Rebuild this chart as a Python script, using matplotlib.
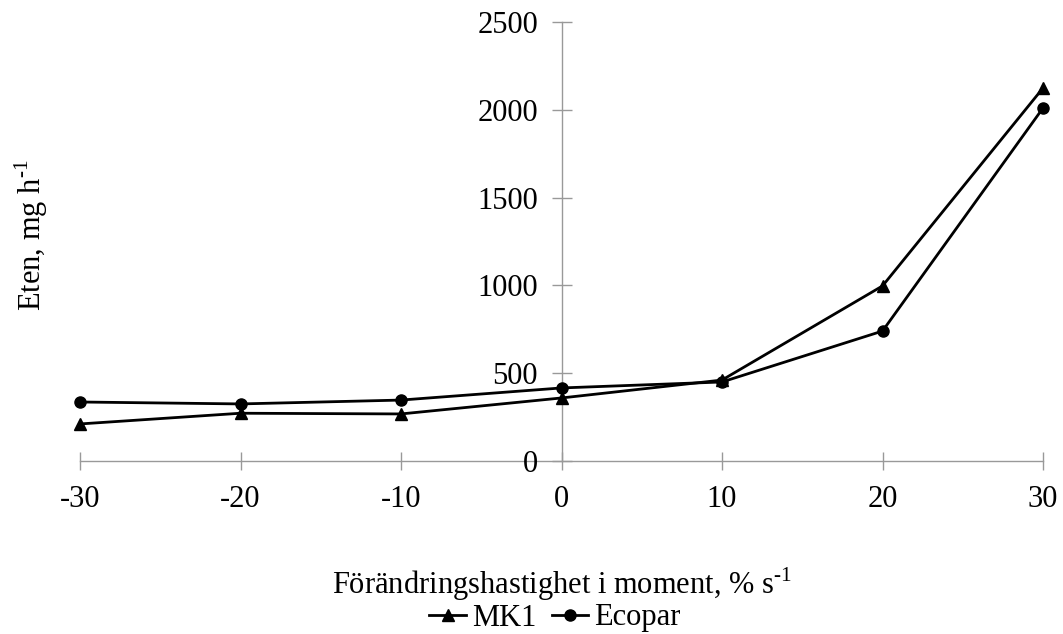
import matplotlib
matplotlib.use("Agg")
from matplotlib import pyplot as plt

plt.rcParams['font.family'] = ['Liberation Serif', 'DejaVu Serif']
plt.rcParams['mathtext.fontset'] = 'custom'
plt.rcParams['mathtext.rm'] = 'Liberation Serif'
plt.rcParams['axes.unicode_minus'] = False

# data
x_vals = [-30, -20, -10, 0, 10, 20, 30]
mk1 = [211, 272, 268, 359, 461, 997, 2124]
ecopar = [336, 325, 347, 416, 450, 740, 2010]
y_ticks = [0, 500, 1000, 1500, 2000, 2500]

fs = 22

fig = plt.figure(figsize=(10.63, 6.34), dpi=100)
ax = fig.add_axes([80 / 1063, 1 - 461 / 634, 963 / 1063, 439 / 634])

ax.plot(x_vals, mk1, color='black', lw=2, marker='^', ms=8, label='MK1', clip_on=False)
ax.plot(x_vals, ecopar, color='black', lw=2, marker='o', ms=8, label='Ecopar', clip_on=False)

ax.set_xlim(-30, 30)
ax.set_ylim(0, 2500)
ax.set_xticks(x_vals)
ax.set_yticks(y_ticks)

ax.spines['left'].set_position(('data', 0))
ax.spines['right'].set_visible(False)
ax.spines['top'].set_visible(False)
for s in ['left', 'bottom']:
    ax.spines[s].set_color('#999999')
    ax.spines[s].set_linewidth(1)
    ax.spines[s].set_zorder(0)

ax.tick_params(axis='y', direction='inout', length=14, width=1, color='#999999',
               labelsize=fs, pad=10)
ax.tick_params(axis='x', direction='inout', length=13, width=1, color='#999999',
               labelsize=fs, pad=11)

fig.text(31 / 1063, 1 - 235 / 634, r'Eten, mg h$^{\text{-1}}$', rotation=90,
         ha='center', va='center', fontsize=fs)
fig.text(562 / 1063, 1 - 584 / 634, r'Förändringshastighet i moment, % s$^{\text{-1}}$',
         ha='center', va='center', fontsize=fs)

fig.legend(loc='center', bbox_to_anchor=(555 / 1063, 1 - 618 / 634), ncol=2,
           frameon=False, fontsize=fs, handlelength=1.2, handletextpad=0.2,
           columnspacing=0.5, borderpad=0)

fig.savefig('out.png', dpi=100)
